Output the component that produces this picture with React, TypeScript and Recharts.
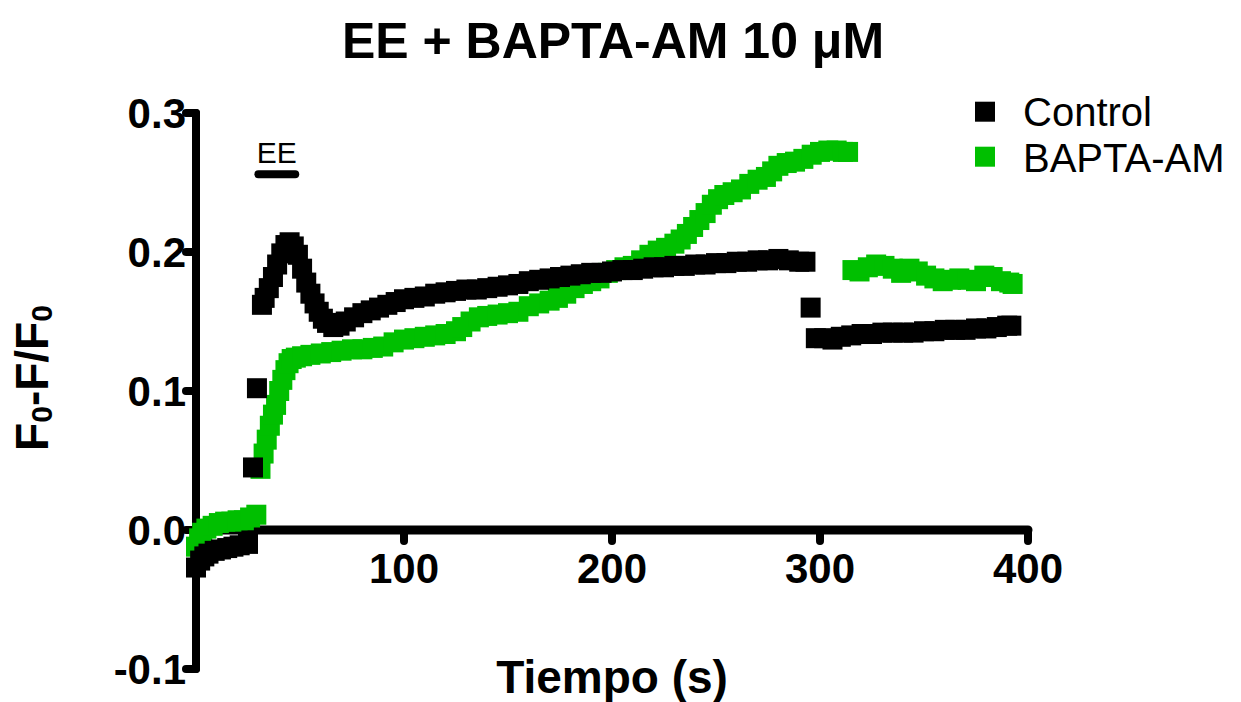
import { ScatterChart, Scatter, XAxis, YAxis, ReferenceLine, Legend } from "recharts";

// [time (s), F0-F/F0]
const controlPoints: [number, number][] = [
  [0, -0.027], [2, -0.022], [4, -0.019], [6, -0.017], [9, -0.015], [12, -0.014], [15, -0.013],
  [18, -0.012], [21, -0.011], [25, -0.01],
  [27.4, 0.045], [29.3, 0.102], [31.7, 0.162], [33, 0.167], [35, 0.174], [37, 0.182], [39, 0.191],
  [41, 0.199], [43, 0.205], [45, 0.207], [47, 0.204], [49, 0.198], [51, 0.188], [53, 0.178],
  [55, 0.17], [57, 0.163], [59, 0.157], [61, 0.152], [63, 0.149], [66, 0.146], [69, 0.147],
  [72, 0.15], [76, 0.153], [80, 0.156], [84, 0.158], [88, 0.16], [92, 0.162], [96, 0.164],
  [100, 0.166], [105, 0.167], [110, 0.168], [115, 0.17], [120, 0.171], [125, 0.172], [130, 0.173],
  [135, 0.173], [140, 0.174], [145, 0.175], [150, 0.176], [155, 0.177], [160, 0.179], [165, 0.18],
  [170, 0.181], [175, 0.182], [180, 0.183], [185, 0.184], [190, 0.185], [195, 0.185], [200, 0.186],
  [205, 0.187], [210, 0.187], [215, 0.188], [220, 0.189], [225, 0.189], [230, 0.19], [235, 0.19],
  [240, 0.191], [245, 0.191], [250, 0.192], [255, 0.192], [260, 0.193], [265, 0.193], [270, 0.194],
  [275, 0.194], [280, 0.195], [285, 0.194], [290, 0.193], [293, 0.193],
  [295.5, 0.16],
  [298, 0.138], [302, 0.138], [306, 0.137], [310, 0.139], [315, 0.14], [320, 0.141], [325, 0.141],
  [330, 0.142], [335, 0.142], [340, 0.142], [345, 0.142], [350, 0.143], [355, 0.143], [360, 0.144],
  [365, 0.144], [370, 0.144], [375, 0.145], [380, 0.145], [385, 0.146], [390, 0.147], [392, 0.147],
];

const baptaPoints: [number, number][] = [
  [0, -0.012], [1.5, -0.006], [3, -0.002], [5, 0.001], [8, 0.003], [11, 0.005], [14, 0.006],
  [17, 0.006], [20, 0.007], [23, 0.007], [26, 0.009], [29, 0.011],
  [31, 0.044], [32.5, 0.055], [34, 0.065], [35.5, 0.075], [37, 0.083], [38.5, 0.09], [40, 0.1],
  [41.5, 0.108], [43, 0.115], [44.5, 0.12], [46, 0.123], [48, 0.124], [51, 0.125], [55, 0.126],
  [60, 0.127], [65, 0.128], [70, 0.129], [75, 0.13], [80, 0.13], [85, 0.131], [90, 0.132],
  [95, 0.135], [100, 0.137], [105, 0.138], [110, 0.139], [115, 0.14], [120, 0.141], [125, 0.143],
  [128, 0.146], [132, 0.15], [136, 0.153], [140, 0.154], [145, 0.155], [150, 0.156], [155, 0.157],
  [160, 0.161], [165, 0.163], [170, 0.165], [174, 0.167], [178, 0.17], [182, 0.174], [186, 0.177],
  [190, 0.179], [194, 0.181], [198, 0.185], [202, 0.187], [206, 0.189], [210, 0.19], [214, 0.194],
  [218, 0.198], [222, 0.201], [226, 0.203], [230, 0.206], [233, 0.209], [236, 0.213], [239, 0.218],
  [242, 0.223], [245, 0.228], [248, 0.234], [251, 0.238], [254, 0.241], [258, 0.243], [262, 0.245],
  [266, 0.249], [270, 0.252], [274, 0.254], [277, 0.258], [280, 0.262], [284, 0.264], [288, 0.265],
  [292, 0.267], [296, 0.27], [300, 0.272], [304, 0.273], [308, 0.273], [311, 0.272], [313.5, 0.272],
  [315.6, 0.187], [319, 0.186], [323, 0.189], [327, 0.191], [331, 0.19], [335, 0.188], [339, 0.185],
  [343, 0.188], [347, 0.186], [351, 0.183], [355, 0.181], [359, 0.179], [363, 0.18], [367, 0.181],
  [371, 0.18], [375, 0.179], [379, 0.183], [383, 0.182], [387, 0.179], [391, 0.178], [392.6, 0.177],
];

const xTicks = [100, 200, 300, 400];
const yTicks = [-0.1, 0, 0.1, 0.2, 0.3];
const eeBar = { start: 30, end: 47.7, level: 0.256 };

const FONT = "'Liberation Sans', Arial, Helvetica, sans-serif";
const GREEN = "#00bf00";

const W = 1241;
const H = 702;
const MARGIN = { top: 113, right: 213, bottom: 32, left: 96 };
const Y_MIN = -0.1;
const Y_MAX = 0.3;
const PLOT_H = H - MARGIN.top - MARGIN.bottom - 1;
// pixel row of y = 0, where the x axis sits
const ZERO_Y = MARGIN.top + (PLOT_H * Y_MAX) / (Y_MAX - Y_MIN);

const toRows = (pts: [number, number][]) => pts.map(([t, v]) => ({ t, v }));
const controlData = toRows(controlPoints);
const baptaData = toRows(baptaPoints);

const square = (fill: string) => (props: any) => (
  <rect x={props.cx - 10} y={props.cy - 10} width={20} height={20} fill={fill} />
);

const renderXTick = (props: any) => {
  const { x, payload } = props;
  return (
    <g>
      <line x1={x} x2={x} y1={ZERO_Y} y2={ZERO_Y + 11} stroke="#000" strokeWidth={8} strokeLinecap="round" />
      <text x={x} y={ZERO_Y + 53} textAnchor="middle" fontFamily={FONT} fontWeight="bold" fontSize={42} fill="#000">
        {payload.value}
      </text>
    </g>
  );
};

const renderLegend = () => (
  <svg width={291} height={110}>
    <rect x={25} y={21.7} width={20} height={20} fill="#000" />
    <text x={73} y={45.7} fontFamily={FONT} fontSize={40} fill="#000">Control</text>
    <rect x={25} y={66.7} width={20} height={20} fill={GREEN} />
    <text x={73} y={91.7} fontFamily={FONT} fontSize={40} fill="#000">BAPTA-AM</text>
  </svg>
);

export default function App() {
  return (
    <div style={{ position: "absolute", left: 0, top: 0, width: W, height: H, background: "#fff" }}>
      <svg width={W} height={70} style={{ position: "absolute", left: 0, top: 0 }}>
        <text x={613} y={58} textAnchor="middle" fontFamily={FONT} fontWeight="bold" fontSize={50} fill="#000">
          EE + BAPTA-AM 10 μM
        </text>
      </svg>
      <ScatterChart width={W} height={H} margin={MARGIN}>
        <XAxis
          type="number"
          dataKey="t"
          domain={[0, 400]}
          ticks={xTicks}
          interval={0}
          height={1}
          axisLine={false}
          tickLine={false}
          tick={renderXTick}
          label={{
            content: () => (
              <text x={612} y={693} textAnchor="middle" fontFamily={FONT} fontWeight="bold" fontSize={46} fill="#000">
                Tiempo (s)
              </text>
            ),
          }}
        />
        <YAxis
          type="number"
          dataKey="v"
          domain={[Y_MIN, Y_MAX]}
          ticks={yTicks}
          interval={0}
          width={100}
          tickFormatter={(v: number) => v.toFixed(1)}
          axisLine={{ stroke: "#000", strokeWidth: 8, strokeLinecap: "round" }}
          tickLine={{ stroke: "#000", strokeWidth: 8, strokeLinecap: "round" }}
          tickSize={10}
          tickMargin={0}
          tick={{ fill: "#000", fontSize: 42, fontWeight: "bold", fontFamily: FONT }}
          label={{
            content: () => (
              <text transform="translate(48,378) rotate(-90)" textAnchor="middle" fontFamily={FONT} fontWeight="bold" fontSize={46} fill="#000">
                F<tspan fontSize={30} dy={4}>0</tspan>
                <tspan dy={-4}>-F/F</tspan>
                <tspan fontSize={30} dy={4}>0</tspan>
              </text>
            ),
          }}
        />
        <ReferenceLine y={0} stroke="#000" strokeWidth={9} strokeLinecap="round" />
        <ReferenceLine
          segment={[
            { x: eeBar.start, y: eeBar.level },
            { x: eeBar.end, y: eeBar.level },
          ]}
          stroke="#000"
          strokeWidth={8}
          strokeLinecap="round"
          label={{
            content: (p: any) => {
              const vb = p.viewBox || {};
              return (
                <text x={(vb.x || 0) + (vb.width || 0) / 2} y={(vb.y || 0) - 11} textAnchor="middle" fontFamily={FONT} fontSize={30} fill="#000">
                  EE
                </text>
              );
            },
          }}
        />
        <Scatter name="BAPTA-AM" data={baptaData} fill={GREEN} shape={square(GREEN)} isAnimationActive={false} />
        <Scatter name="Control" data={controlData} fill="#000" shape={square("#000")} isAnimationActive={false} />
        <Legend
          layout="horizontal"
          verticalAlign="middle"
          align="center"
          content={renderLegend}
          wrapperStyle={{ left: 950, top: 80, width: 291, height: 110 }}
        />
      </ScatterChart>
    </div>
  );
}
